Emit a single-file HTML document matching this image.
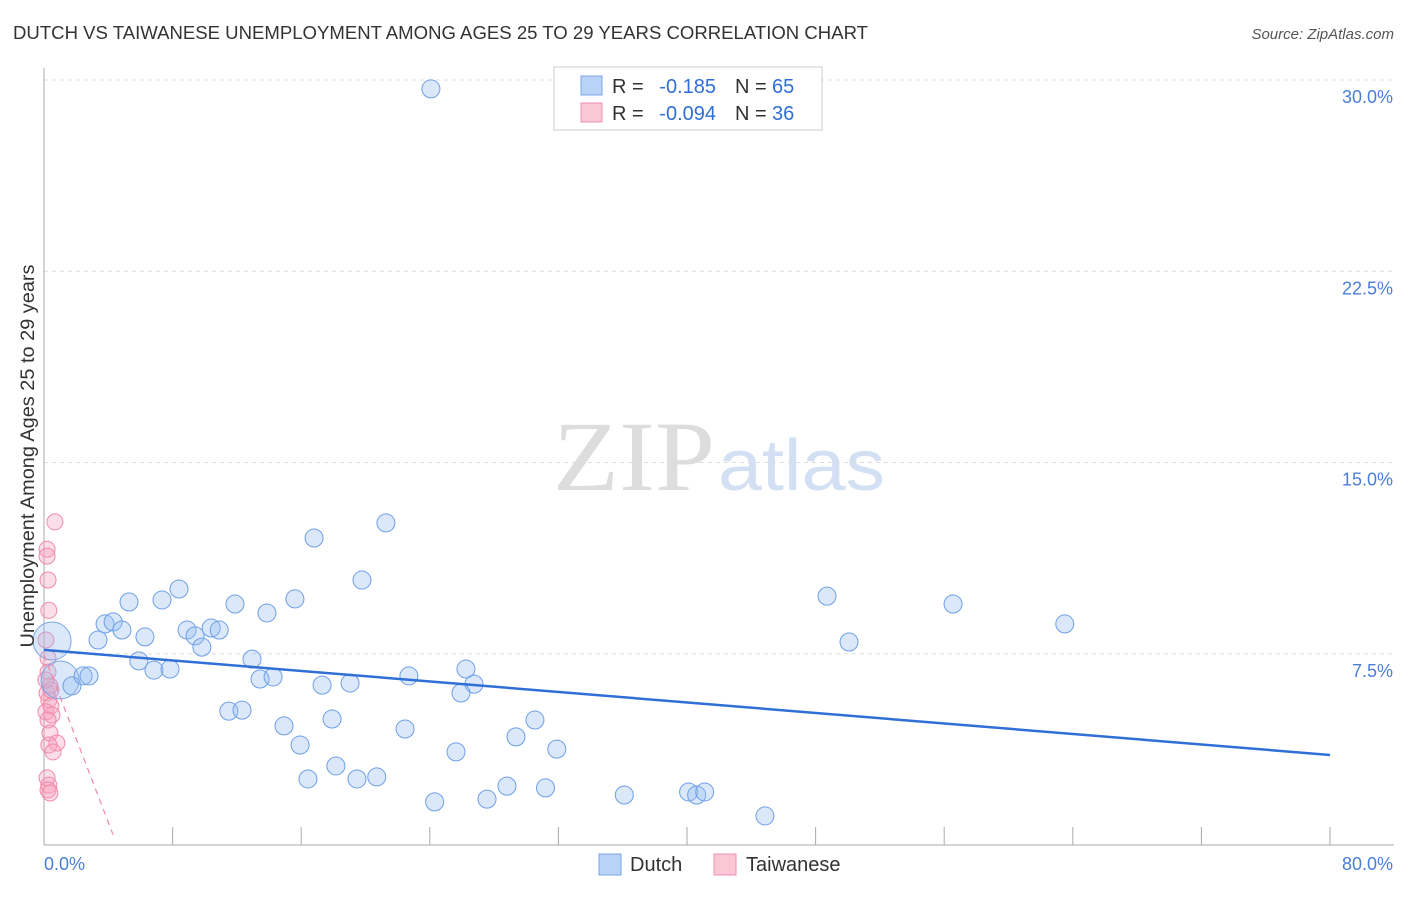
<!DOCTYPE html>
<html><head><meta charset="utf-8"><style>
body{margin:0;background:#fff;font-family:"Liberation Sans",sans-serif;}
svg text{font-family:"Liberation Sans",sans-serif;}
</style></head><body>
<svg id="chart" width="1406" height="892" xmlns="http://www.w3.org/2000/svg">
<text x="13" y="39" font-size="18.5" fill="#333" textLength="855" lengthAdjust="spacingAndGlyphs">DUTCH VS TAIWANESE UNEMPLOYMENT AMONG AGES 25 TO 29 YEARS CORRELATION CHART</text>
<text x="1394" y="39" font-size="15" fill="#555" font-style="italic" text-anchor="end">Source: ZipAtlas.com</text>
<g>
<text x="553" y="490" font-size="100" fill="#ddd" textLength="162" lengthAdjust="spacingAndGlyphs" style="font-family:'Liberation Serif',serif">ZIP</text>
<text x="718" y="490" font-size="72" fill="#d3e0f3" textLength="167" lengthAdjust="spacingAndGlyphs">atlas</text>
</g>
<g id="grid"></g>
<g id="axes"></g>
<g id="marks"></g>
<text transform="translate(34,456) rotate(-90)" font-size="19" fill="#333" text-anchor="middle" textLength="383" lengthAdjust="spacingAndGlyphs">Unemployment Among Ages 25 to 29 years</text>
<g>
<rect x="554" y="67" width="268" height="63" fill="#fff" stroke="#ccc"/>
<rect x="581" y="76" width="21" height="19" fill="#b9d3f7" stroke="#7aa6e8"/>
<rect x="581" y="103" width="21" height="19" fill="#fbc6d5" stroke="#f090ae"/>
<text x="612" y="93" font-size="20" fill="#333">R =</text>
<text x="716" y="93" font-size="20" fill="#2f6fd6" text-anchor="end">-0.185</text>
<text x="735" y="93" font-size="20" fill="#333">N =</text>
<text x="772" y="93" font-size="20" fill="#2f6fd6">65</text>
<text x="612" y="120" font-size="20" fill="#333">R =</text>
<text x="716" y="120" font-size="20" fill="#2f6fd6" text-anchor="end">-0.094</text>
<text x="735" y="120" font-size="20" fill="#333">N =</text>
<text x="772" y="120" font-size="20" fill="#2f6fd6">36</text>
</g>
<g>
<rect x="599" y="854" width="22" height="21" fill="#b9d3f7" stroke="#7aa6e8"/>
<text x="630" y="871" font-size="20" fill="#333">Dutch</text>
<rect x="714" y="854" width="22" height="21" fill="#fbc6d5" stroke="#f090ae"/>
<text x="746" y="871" font-size="20" fill="#333">Taiwanese</text>
</g>
</svg>
<script>
const yTicks=[7.5,15,22.5,30];
const yTickLabels=["7.5%","15.0%","22.5%","30.0%"];
const xTickLabels=["0.0%","80.0%"];
const dutchX=[24.07,21.27,16.8,19.78,8.4,5.29,7.34,11.88,15.61,13.87,48.71,56.55,63.5,3.8,4.3,4.85,3.36,6.28,8.9,9.4,10.4,10.9,9.82,50.08,5.9,6.84,7.84,12.94,1.74,2.43,2.8,13.44,14.25,17.3,19.04,22.7,26.25,26.75,25.94,11.5,12.32,17.92,14.93,22.46,30.54,29.36,15.93,25.63,31.9,18.16,16.42,19.47,20.7,28.8,31.2,24.3,27.56,36.1,40.1,40.6,41.1,44.85];
const dutchY=[29.65,12.63,12.04,10.39,10.04,9.53,9.61,9.45,9.65,9.1,9.76,9.45,8.67,8.67,8.75,8.43,8.04,8.16,8.43,8.2,8.51,8.43,7.76,7.96,7.22,6.86,6.9,7.29,6.24,6.63,6.63,6.51,6.59,6.27,6.35,6.63,6.9,6.31,5.96,5.25,5.29,4.94,4.67,4.55,4.9,4.24,3.92,3.65,3.76,3.1,2.59,2.59,2.67,2.31,2.24,1.69,1.8,1.96,2.08,1.96,2.08,1.14];
const dutchBigX=[0.5,1.0];
const dutchBigY=[8.0,6.47];
const taiX=[0.68,0.19,0.19,0.25,0.3,0.12,0.25,0.25,0.37,0.19,0.3,0.43,0.12,0.5,0.25,0.37,0.8,0.3,0.56,0.19,0.3,0.25,0.37,0.12,0.43];
const taiY=[12.67,11.6,11.33,10.39,9.2,8.04,7.33,6.78,6.24,5.96,5.69,5.45,5.22,5.1,4.9,4.39,4.0,3.92,3.65,2.63,2.35,2.16,2.04,6.47,6.08];
const dutchTrend=[[0,7.65],[80,3.53]];
const taiTrend=[[0,7.45],[4.3,0.4]];
const NS="http://www.w3.org/2000/svg";
const X=v=>44+v*(1330-44)/80;
const Y=v=>845-v*25.5;
function mk(tag,at,parent){const e=document.createElementNS(NS,tag);for(const k in at)e.setAttribute(k,at[k]);document.getElementById(parent).appendChild(e);return e;}
yTicks.forEach((t,i)=>{
 const g=mk('line',{x1:44,x2:1394,y1:Y(t),y2:Y(t),stroke:'#ddd','stroke-dasharray':'4,4'},'grid');
 
 
 const l=mk('text',{x:1393,y:Y(t)+23,'font-size':18,fill:'#4a7fd8','text-anchor':'end'},'axes');
 l.textContent=yTickLabels[i];
 
 
});
const ax=mk('line',{x1:44,x2:44,y1:68,y2:845,stroke:'#aaa'},'axes');


const bx=mk('line',{x1:44,x2:1394,y1:845,y2:845,stroke:'#aaa'},'axes');


for(let i=0;i<=10;i++){const t=mk('line',{x1:X(i*8),x2:X(i*8),y1:827,y2:845,stroke:'#aaa'},'axes');
 
 }
const x0=mk('text',{x:44,y:870,'font-size':18,fill:'#4a7fd8'},'axes');x0.textContent=xTickLabels[0];


const x1=mk('text',{x:1393,y:870,'font-size':18,fill:'#4a7fd8','text-anchor':'end'},'axes');x1.textContent=xTickLabels[1];


taiX.forEach((v,i)=>{const c=mk('circle',{cx:X(v),cy:Y(taiY[i]),r:8,fill:'rgba(246,160,190,0.35)',stroke:'#f08aa8','stroke-width':1},'marks');
 
 });
dutchBigX.forEach((v,i)=>{const c=mk('circle',{cx:X(v),cy:Y(dutchBigY[i]),r:19,fill:'rgba(150,190,240,0.35)',stroke:'#7aa6e8','stroke-width':1},'marks');
 
 });
dutchX.forEach((v,i)=>{const c=mk('circle',{cx:X(v),cy:Y(dutchY[i]),r:9,fill:'rgba(150,190,240,0.35)',stroke:'#6f9fe6','stroke-width':1},'marks');
 
 });
const tl=mk('line',{x1:X(dutchTrend[0][0]),y1:Y(dutchTrend[0][1]),x2:X(dutchTrend[1][0]),y2:Y(dutchTrend[1][1]),stroke:'#2f6fd6','stroke-width':2.5},'marks');


const pl=mk('line',{x1:X(taiTrend[0][0]),y1:Y(taiTrend[0][1]),x2:X(taiTrend[1][0]),y2:Y(taiTrend[1][1]),stroke:'#f08aa8','stroke-width':1.2,'stroke-dasharray':'6,5'},'marks');


</script>
</body></html>
